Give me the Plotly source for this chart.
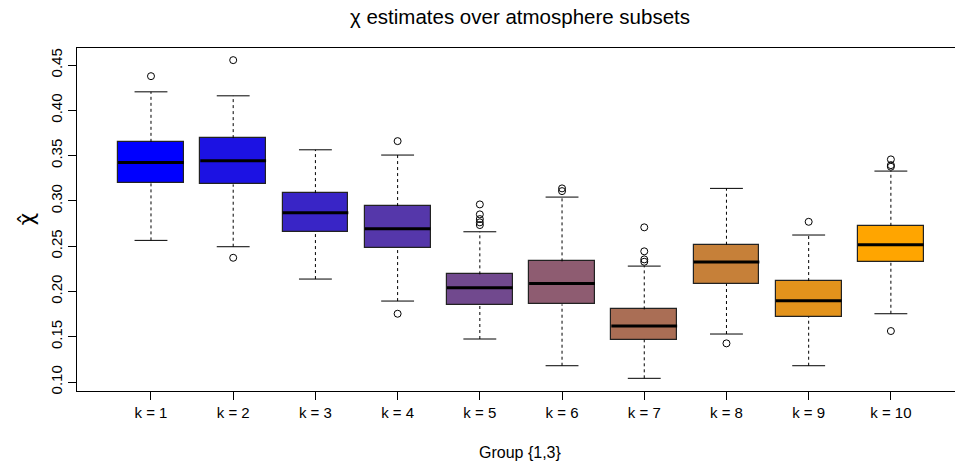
import plotly.graph_objects as go

# ---- data ----
positions = [1, 2, 3, 4, 5, 6, 7, 8, 9, 10]
tick_labels = ["k = 1", "k = 2", "k = 3", "k = 4", "k = 5",
               "k = 6", "k = 7", "k = 8", "k = 9", "k = 10"]
lower_whisker = [0.2564, 0.2494, 0.2137, 0.1894, 0.1475, 0.1180, 0.1041, 0.1530, 0.1180, 0.1754]
q1 = [0.3200, 0.3182, 0.2659, 0.2476, 0.1853, 0.1858, 0.1467, 0.2085, 0.1721, 0.2325]
median = [0.3425, 0.3443, 0.2869, 0.2692, 0.2041, 0.2089, 0.1618, 0.2325, 0.1897, 0.2516]
q3 = [0.3652, 0.3693, 0.3086, 0.2943, 0.2189, 0.2332, 0.1802, 0.2516, 0.2115, 0.2725]
upper_whisker = [0.4204, 0.4160, 0.3564, 0.3506, 0.2659, 0.3042, 0.2280, 0.3138, 0.2623, 0.3329]
outliers = [
    [0.4377],
    [0.4554, 0.2372],
    [],
    [0.3660, 0.1754],
    [0.2961, 0.2851, 0.2799, 0.2763, 0.2733],
    [0.3138, 0.3108],
    [0.2708, 0.2443, 0.2354, 0.2328],
    [0.1427],
    [0.2769],
    [0.3458, 0.3395, 0.3377, 0.1563],
]
y_ticks = [0.10, 0.15, 0.20, 0.25, 0.30, 0.35, 0.40, 0.45]
y_tick_labels = ["0.10", "0.15", "0.20", "0.25", "0.30", "0.35", "0.40", "0.45"]

# ---- styles ----
colors = ["#0000FF", "#1C12E3", "#3925C6", "#5537AA", "#71498E",
          "#8E5C71", "#AA6E55", "#C68039", "#E3931C", "#FFA500"]
BOX_W = 0.8
CAP_W = 0.4
FONT = "Liberation Sans, Arial, Helvetica, sans-serif"

ML, MT, MB = 77, 48, 79
PLOT_W = 955 - ML
PLOT_H = 470 - MT - MB

fig = go.Figure()

# whiskers (dashed)
wx, wy = [], []
for p, lo, a, b, hi in zip(positions, lower_whisker, q1, q3, upper_whisker):
    wx += [p, p, None, p, p, None]
    wy += [lo, a, None, b, hi, None]
fig.add_trace(go.Scatter(x=wx, y=wy, mode="lines",
                         line=dict(color="black", width=1, dash="3px,3px"),
                         hoverinfo="skip", showlegend=False))

# caps
cx, cy = [], []
for p, lo, hi in zip(positions, lower_whisker, upper_whisker):
    cx += [p - CAP_W / 2, p + CAP_W / 2, None, p - CAP_W / 2, p + CAP_W / 2, None]
    cy += [lo, lo, None, hi, hi, None]
fig.add_trace(go.Scatter(x=cx, y=cy, mode="lines",
                         line=dict(color="black", width=1),
                         hoverinfo="skip", showlegend=False))

# boxes
fig.add_trace(go.Bar(x=positions, base=q1,
                     y=[b - a for a, b in zip(q1, q3)],
                     width=BOX_W,
                     marker=dict(color=colors, line=dict(color="#222222", width=1.2)),
                     showlegend=False, hoverinfo="skip"))

# medians
mx, my = [], []
for p, m in zip(positions, median):
    mx += [p - BOX_W / 2, p + BOX_W / 2, None]
    my += [m, m, None]
fig.add_trace(go.Scatter(x=mx, y=my, mode="lines",
                         line=dict(color="black", width=3),
                         hoverinfo="skip", showlegend=False))

# outliers
ox, oy = [], []
for p, outs in zip(positions, outliers):
    for v in outs:
        ox.append(p)
        oy.append(v)
fig.add_trace(go.Scatter(x=ox, y=oy, mode="markers",
                         marker=dict(symbol="circle-open", size=7,
                                     color="black", line=dict(width=1)),
                         hoverinfo="skip", showlegend=False))

fig.update_layout(
    width=955, height=470,
    margin=dict(l=ML, r=0, t=MT, b=MB, autoexpand=False),
    plot_bgcolor="white", paper_bgcolor="white",
    font=dict(family=FONT, size=15, color="black"),
    title=dict(text="χ estimates over atmosphere subsets",
               x=520 / 955, xref="container", xanchor="center",
               y=1 - 17 / 470, yref="container", yanchor="middle",
               font=dict(size=20.5, family=FONT, color="black")),
    bargap=0,
)
fig.update_xaxes(range=[0.1, 10.78], tickvals=positions, ticktext=tick_labels,
                 ticks="outside", ticklen=8, tickcolor="black", tickwidth=1,
                 showline=True, linecolor="black", linewidth=1, mirror=True,
                 showgrid=False, zeroline=False, automargin=False,
                 tickfont=dict(size=15, family=FONT))
fig.update_yaxes(range=[0.0901, 0.4688], tickvals=y_ticks, ticktext=y_tick_labels,
                 ticks="outside", ticklen=8, tickcolor="black", tickwidth=1,
                 tickangle=-90,
                 showline=True, linecolor="black", linewidth=1, mirror=False,
                 showgrid=False, zeroline=False, automargin=False,
                 tickfont=dict(size=15, family=FONT))

fig.add_annotation(text="Group {1,3}", xref="paper", yref="paper",
                   x=(520 - ML) / PLOT_W, y=(391 - 453) / PLOT_H,
                   xanchor="center", yanchor="middle", showarrow=False,
                   font=dict(size=16, family=FONT, color="black"))
fig.add_annotation(text="χ̂", xref="paper", yref="paper",
                   x=(26 - ML) / PLOT_W, y=0.5, textangle=-90,
                   xanchor="center", yanchor="middle", showarrow=False,
                   font=dict(size=22, family="DejaVu Sans", color="black"))

fig.write_html("out.html",
               config={"displayModeBar": False},
               post_script="document.body.style.margin='0';document.body.style.overflow='hidden';")
